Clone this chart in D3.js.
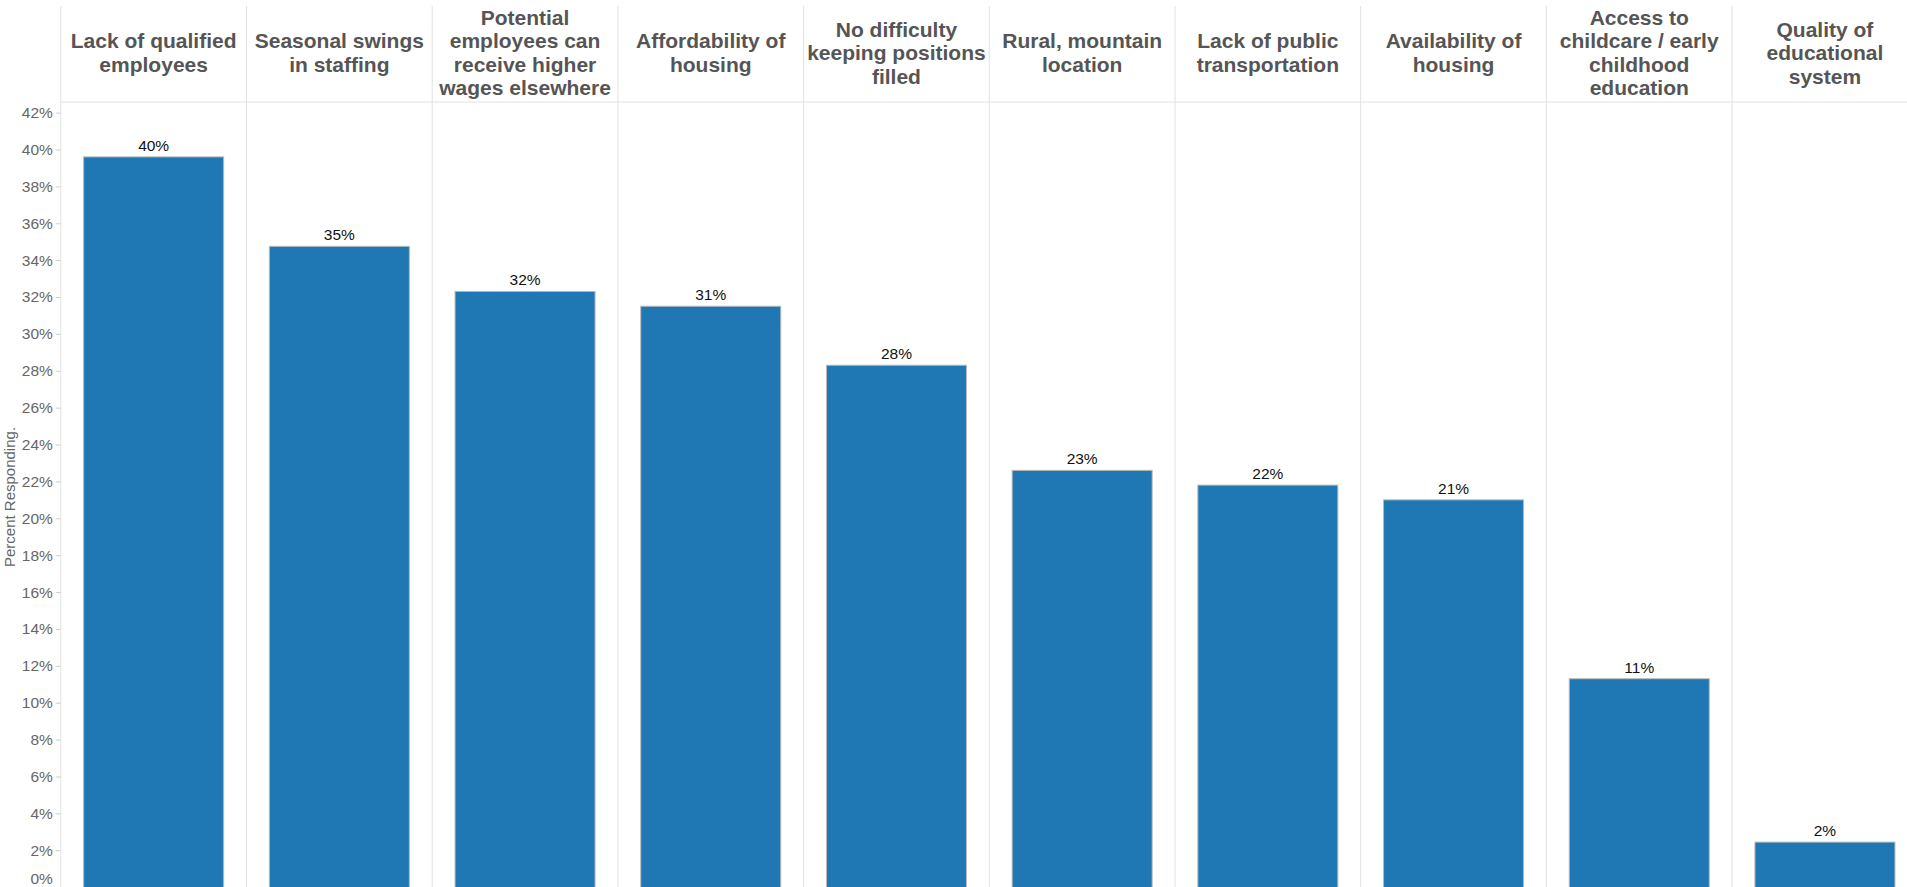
<!DOCTYPE html>
<html>
<head>
<meta charset="utf-8">
<script src="https://cdn.jsdelivr.net/npm/d3@7"></script>
<style>
  html, body { margin: 0; padding: 0; background: #fff; overflow: hidden; }
  svg { display: block; font-family: "Liberation Sans", Arial, sans-serif; }
</style>
</head>
<body>
<svg id="chart" width="1907" height="887"></svg>
<script>
// ---- data ----
const categories = [
  "Lack of qualified employees",
  "Seasonal swings in staffing",
  "Potential employees can receive higher wages elsewhere",
  "Affordability of housing",
  "No difficulty keeping positions filled",
  "Rural, mountain location",
  "Lack of public transportation",
  "Availability of housing",
  "Access to childcare / early childhood education",
  "Quality of educational system"
];
const headerLines = [
  ["Lack of qualified", "employees"],
  ["Seasonal swings", "in staffing"],
  ["Potential", "employees can", "receive higher", "wages elsewhere"],
  ["Affordability of", "housing"],
  ["No difficulty", "keeping positions", "filled"],
  ["Rural, mountain", "location"],
  ["Lack of public", "transportation"],
  ["Availability of", "housing"],
  ["Access to", "childcare / early", "childhood", "education"],
  ["Quality of", "educational", "system"]
];
const values = [39.6, 34.75, 32.3, 31.5, 28.3, 22.6, 21.8, 21.0, 11.3, 2.44];
const valueLabels = ["40%", "35%", "32%", "31%", "28%", "23%", "22%", "21%", "11%", "2%"];
const yTicks = [0, 2, 4, 6, 8, 10, 12, 14, 16, 18, 20, 22, 24, 26, 28, 30, 32, 34, 36, 38, 40, 42];
const yTitle = "Percent Responding.";

// ---- layout ----
const W = 1907, H = 887;
const plotLeft = 60.8, colStep = 185.7;
const headerTop = 6, headerBottom = 102;
const y0 = 887.1, yPerPct = 18.44;

const svg = d3.select("#chart");

const x = d3.scaleBand()
  .domain(categories)
  .range([plotLeft, plotLeft + colStep * categories.length])
  .padding(0);

const y = d3.scaleLinear()
  .domain([0, 42])
  .range([y0, y0 - 42 * yPerPct]);

// grid: column dividers
const gridColor = "#e2e2e2";
const bounds = categories.map(c => x(c)).concat([x(categories[categories.length - 1]) + x.bandwidth()]);
svg.append("g").selectAll("line").data(bounds).join("line")
  .attr("x1", d => d).attr("x2", d => d)
  .attr("y1", headerTop).attr("y2", H)
  .attr("stroke", gridColor).attr("stroke-width", 1);

// header bottom line
svg.append("line")
  .attr("x1", plotLeft).attr("x2", W)
  .attr("y1", headerBottom).attr("y2", headerBottom)
  .attr("stroke", gridColor).attr("stroke-width", 1);

// header labels
const lineH = 23.5, midBaseline = 60;
const hdr = svg.append("g");
categories.forEach((c, i) => {
  const lines = headerLines[i];
  const cx = x(c) + x.bandwidth() / 2;
  const first = midBaseline - (lines.length - 1) / 2 * lineH;
  const t = hdr.append("text")
    .attr("text-anchor", "middle")
    .attr("font-size", 21)
    .attr("font-weight", "bold")
    .attr("fill", "#555555");
  lines.forEach((ln, j) => {
    t.append("tspan").attr("x", cx).attr("y", first + j * lineH).text(ln);
  });
});

// y axis
const yAxis = d3.axisLeft(y)
  .tickValues(yTicks)
  .tickSize(5)
  .tickPadding(3)
  .tickFormat(d => d + "%");
const ga = svg.append("g")
  .attr("transform", `translate(${plotLeft},0)`)
  .call(yAxis);
ga.select(".domain").remove();
ga.selectAll(".tick line").attr("stroke", "#cfcfcf");
ga.selectAll(".tick text")
  .attr("font-size", 15.5)
  .attr("font-family", "\"Liberation Sans\", Arial, sans-serif")
  .attr("fill", "#666666");
ga.selectAll(".tick").filter(d => d === 0).select("text").attr("dy", "-0.25em");

// y axis title
svg.append("text")
  .attr("transform", `translate(15,497) rotate(-90)`)
  .attr("text-anchor", "middle")
  .attr("font-size", 15)
  .attr("fill", "#666666")
  .text(yTitle);

// bars
const barW = x.bandwidth() * 0.754;
svg.append("g").selectAll("rect").data(values).join("rect")
  .attr("x", (d, i) => x(categories[i]) + (x.bandwidth() - barW) / 2)
  .attr("y", d => y(d))
  .attr("width", barW)
  .attr("height", d => y(0) - y(d) + 2)
  .attr("fill", "#1f77b4")
  .attr("stroke", "#b9b9b9")
  .attr("stroke-width", 1);

// value labels
svg.append("g").selectAll("text").data(values).join("text")
  .attr("x", (d, i) => x(categories[i]) + x.bandwidth() / 2)
  .attr("y", d => y(d) - 6)
  .attr("text-anchor", "middle")
  .attr("font-size", 15.5)
  .attr("fill", "#111111")
  .text((d, i) => valueLabels[i]);
</script>
</body>
</html>
